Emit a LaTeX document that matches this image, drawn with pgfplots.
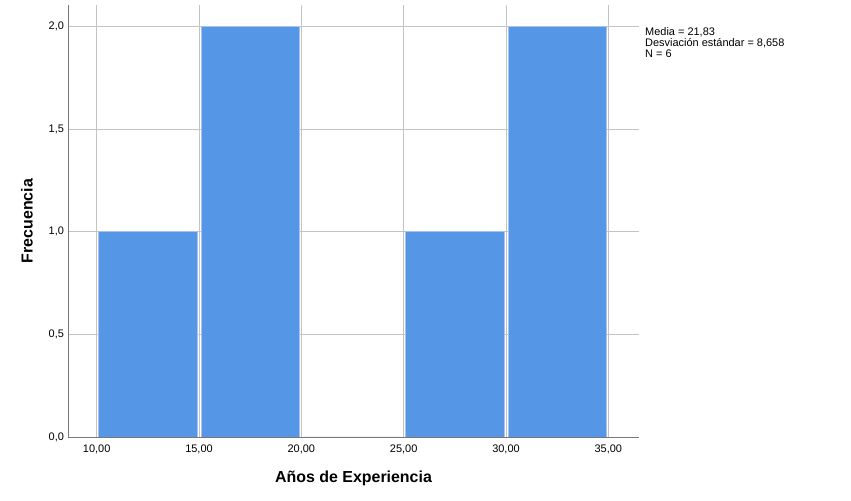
\documentclass[border=0pt]{standalone}
\usepackage{pgfplots}
\pgfplotsset{compat=1.18}
\usepackage{fontspec}
\setmainfont{Liberation Sans}
\definecolor{barfill}{RGB}{85,150,230}
\definecolor{baredge}{RGB}{165,195,238}
\definecolor{gridc}{RGB}{195,195,195}
\definecolor{axisc}{RGB}{120,120,120}
\begin{document}
\begin{tikzpicture}[x=1bp,y=1bp]
\path[use as bounding box] (0,0) rectangle (851,501);
\begin{axis}[
  at={(68bp,64bp)}, anchor=south west,
  scale only axis, width=571bp, height=432bp,
  xmin=8.6, xmax=36.5, ymin=0, ymax=2.104,
  axis x line*=bottom, axis y line*=left,
  axis line style={draw=axisc, line width=0.9bp, -},
  xtick={10,15,20,25,30,35},
  ytick={0,0.5,1,1.5,2},
  major tick length=0pt,
  grid=major,
  major grid style={draw=gridc, line width=0.9bp},
  /pgf/number format/assume math mode=true,
  /pgf/number format/use comma,
  /pgf/number format/fixed,
  /pgf/number format/fixed zerofill,
  /pgf/number format/1000 sep={},
  xticklabel style={/pgf/number format/precision=2, yshift=-4bp},
  yticklabel style={/pgf/number format/precision=1, xshift=-0.5bp},
  tick label style={font=\fontsize{11}{11}\selectfont, text=black},
  xlabel={Años de Experiencia},
  ylabel={Frecuencia},
  label style={font=\fontsize{16}{16}\selectfont\bfseries},
  xlabel style={at={(axis description cs:0.5,0)}, anchor=center, yshift=-41bp},
  ylabel style={at={(axis description cs:0,0.5)}, anchor=center, yshift=41bp},
]
\addplot[ybar, bar width=4.8, bar shift=0, fill=barfill, draw=baredge, line width=0.8bp]
  coordinates {(12.5,1) (17.5,2) (22.5,0) (27.5,1) (32.5,2)};
\end{axis}
\node[anchor=north west, align=left, inner sep=0pt, font=\fontsize{11}{11}\selectfont]
  at (645,474) {Media = 21,83\\Desviación estándar = 8,658\\N = 6};
\end{tikzpicture}
\end{document}
